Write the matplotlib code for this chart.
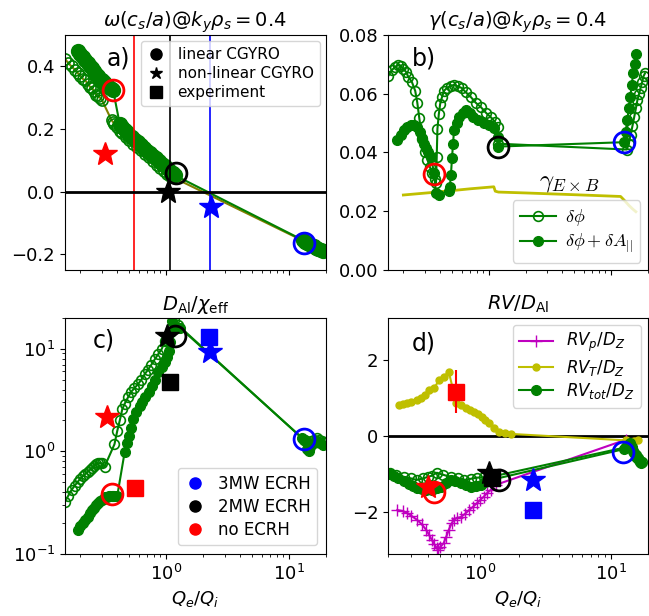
import matplotlib
matplotlib.use("Agg")
import matplotlib.pyplot as plt

# ---------------- data ----------------
# a) real frequency
a_phi_x = [0.15, 0.16, 0.17, 0.18, 0.19, 0.20, 0.21, 0.22, 0.23, 0.24, 0.25, 0.26, 0.27, 0.28, 0.29, 0.30,
           0.36, 0.37, 0.38, 0.40, 0.42, 0.44, 0.47, 0.50, 0.54, 0.58, 0.62, 0.67, 0.72, 0.78, 0.84, 0.90,
           0.96, 1.02, 1.08,
           13.2, 13.8, 14.5, 15.2, 16.0, 16.8, 17.6, 18.5, 19.4]
a_phi_y = [0.425, 0.41, 0.40, 0.39, 0.38, 0.37, 0.36, 0.355, 0.345, 0.335, 0.33, 0.32, 0.31, 0.305, 0.30, 0.293,
           0.228, 0.222, 0.215, 0.205, 0.195, 0.186, 0.175, 0.165, 0.153, 0.142, 0.132, 0.12, 0.109, 0.097,
           0.086, 0.076, 0.066, 0.057, 0.05,
           -0.158, -0.162, -0.166, -0.17, -0.174, -0.178, -0.182, -0.186, -0.19]
a_em_x = [0.19, 0.20, 0.21, 0.22, 0.23, 0.24, 0.25, 0.26, 0.27, 0.28, 0.29, 0.30, 0.31, 0.32, 0.33, 0.34,
          0.35, 0.36, 0.37,
          0.42, 0.44, 0.46, 0.48, 0.50, 0.53, 0.56, 0.59, 0.62, 0.66, 0.70, 0.74, 0.78, 0.83, 0.88, 0.93,
          0.98, 1.03, 1.08, 1.13, 1.18,
          13.0, 13.5, 14.0, 14.6, 15.2, 15.9, 16.6, 17.4, 18.2, 19.0]
a_em_y = [0.45, 0.44, 0.43, 0.42, 0.41, 0.40, 0.395, 0.385, 0.375, 0.37, 0.36, 0.355, 0.35, 0.345, 0.34,
          0.335, 0.33, 0.327, 0.325,
          0.215, 0.205, 0.197, 0.19, 0.182, 0.173, 0.165, 0.157, 0.149, 0.14, 0.131, 0.123, 0.115, 0.106,
          0.097, 0.089, 0.081, 0.073, 0.065, 0.058, 0.052,
          -0.155, -0.16, -0.163, -0.167, -0.171, -0.175, -0.179, -0.183, -0.187, -0.19]

# b) growth rate
b_phi_x = [0.15, 0.16, 0.17, 0.18, 0.19, 0.20, 0.21, 0.22, 0.235, 0.25, 0.26, 0.27, 0.285, 0.30, 0.315, 0.33,
           0.345, 0.36, 0.37, 0.375, 0.38, 0.39, 0.40, 0.415, 0.43, 0.455, 0.49, 0.52, 0.56, 0.60, 0.65,
           0.71, 0.78, 0.86, 0.95, 1.04, 1.12, 1.2, 1.18,
           13.5, 14.0, 14.5, 15.0, 15.5, 16.0, 16.5, 17.0, 17.5, 18.0, 18.5, 19.0]
b_phi_y = [0.066, 0.068, 0.069, 0.0698, 0.0695, 0.0685, 0.0675, 0.0657, 0.064, 0.061, 0.057, 0.0517, 0.0445,
           0.040, 0.0375, 0.035, 0.033, 0.031, 0.0296, 0.0385, 0.048, 0.053, 0.0565, 0.059, 0.061, 0.062,
           0.0628, 0.063, 0.0625, 0.062, 0.0605, 0.059, 0.057, 0.0555, 0.0535, 0.052, 0.0505, 0.0487, 0.043,
           0.041, 0.043, 0.046, 0.049, 0.052, 0.055, 0.058, 0.060, 0.062, 0.064, 0.066, 0.067]
b_em_x = [0.178, 0.19, 0.203, 0.215, 0.23, 0.245, 0.26, 0.275, 0.285, 0.295, 0.306, 0.32, 0.337, 0.356, 0.37,
          0.39, 0.47, 0.48, 0.49, 0.50, 0.51, 0.52, 0.545, 0.57, 0.61, 0.65, 0.70, 0.75, 0.82, 0.91, 1.0,
          1.1, 1.2, 1.18,
          12.8, 13.2, 13.6, 14.0, 14.4, 14.8, 15.2, 15.6, 16.0]
b_em_y = [0.0443, 0.046, 0.0477, 0.0487, 0.0494, 0.0495, 0.0487, 0.047, 0.045, 0.043, 0.0415, 0.040, 0.0385,
          0.033, 0.0262, 0.0255, 0.027, 0.0283, 0.0323, 0.038, 0.043, 0.0477, 0.050, 0.052, 0.0535, 0.0545,
          0.0535, 0.052, 0.051, 0.050, 0.0492, 0.0483, 0.0453, 0.042,
          0.0435, 0.047, 0.051, 0.055, 0.059, 0.063, 0.067, 0.070, 0.0735]
exb_x = [0.2, 0.4, 0.7, 1.1, 1.13, 1.2, 2.0, 5.0, 12.0, 13.0, 14.0, 15.0, 16.0]
exb_y = [0.0255, 0.0266, 0.0276, 0.0283, 0.0268, 0.0265, 0.0262, 0.0256, 0.025, 0.0235, 0.022, 0.0208, 0.0198]

# c) D_Al / chi_eff
c_phi_x = [0.15, 0.16, 0.17, 0.18, 0.19, 0.20, 0.21, 0.22, 0.23, 0.24, 0.25, 0.26, 0.27, 0.28, 0.29, 0.30,
           0.316,
           0.38, 0.40, 0.42, 0.44, 0.46, 0.49, 0.52, 0.55, 0.59, 0.63, 0.67, 0.71, 0.76, 0.81, 0.86, 0.92,
           0.98, 1.04, 1.10, 1.15, 1.25,
           13.2, 13.8, 14.5, 15.2, 16.0, 16.8, 17.6, 18.5, 19.4]
c_phi_y = [0.32, 0.37, 0.42, 0.46, 0.50, 0.54, 0.57, 0.60, 0.63, 0.66, 0.69, 0.72, 0.75, 0.76, 0.77, 0.76,
           0.71,
           1.17, 1.57, 2.0, 2.57, 2.9, 3.36, 3.8, 4.1, 4.5, 5.0, 5.65, 6.2, 7.0, 7.9, 8.8, 9.9, 11.8, 13.5,
           16.0, 19.0, 17.0,
           1.3, 1.25, 1.2, 1.25, 1.3, 1.35, 1.3, 1.25, 1.2]
c_em_x = [0.19, 0.20, 0.21, 0.22, 0.23, 0.24, 0.25, 0.26, 0.27, 0.28, 0.29, 0.30, 0.31, 0.32, 0.33, 0.34,
          0.35, 0.36, 0.37, 0.38, 0.40,
          0.46, 0.48, 0.50, 0.52, 0.54, 0.57, 0.61, 0.64, 0.67, 0.72, 0.77, 0.82, 0.86, 0.92, 0.98, 1.02,
          1.05, 1.08, 1.10, 1.12, 1.3,
          12.8, 13.5, 14.0, 14.5, 15.0, 16.0, 17.0, 18.0, 19.0]
c_em_y = [0.17, 0.185, 0.20, 0.215, 0.23, 0.25, 0.265, 0.28, 0.30, 0.31, 0.325, 0.335, 0.345, 0.355, 0.36,
          0.365, 0.37, 0.37, 0.37, 0.365, 0.365,
          0.98, 1.2, 1.4, 1.7, 2.05, 2.4, 2.75, 3.0, 3.36, 3.8, 4.3, 5.0, 5.9, 6.6, 7.4, 8.3, 9.5, 11.6,
          14.5, 18.5, 16.0,
          1.35, 1.3, 1.05, 1.0, 1.1, 1.2, 1.25, 1.2, 1.15]

# d) RV / D_Al
d_p_x = [0.235, 0.26, 0.28, 0.30, 0.33, 0.36, 0.39, 0.41, 0.43, 0.45, 0.47, 0.48, 0.50, 0.53, 0.555, 0.58,
         0.61, 0.635, 0.67, 0.72, 0.77, 0.83, 0.89, 0.95, 1.01, 1.07, 1.14, 1.21, 1.32, 13.0]
d_p_y = [-1.95, -1.98, -2.03, -2.1, -2.2, -2.32, -2.47, -2.6, -2.73, -2.85, -2.95, -3.0, -2.92, -2.82, -2.65,
         -2.47, -2.3, -2.2, -2.16, -2.13, -2.05, -1.95, -1.86, -1.77, -1.68, -1.6, -1.5, -1.42, -1.29, -0.1]
d_t_x = [0.243, 0.26, 0.28, 0.30, 0.33, 0.357, 0.38, 0.41, 0.45, 0.49, 0.53, 0.58,
         0.66, 0.72, 0.78, 0.84, 0.90, 0.97, 1.04, 1.10, 1.17, 1.28, 1.39, 1.55, 1.72,
         13.0, 14.0, 15.0, 16.0]
d_t_y = [0.82, 0.84, 0.87, 0.89, 0.95, 1.0, 1.08, 1.21, 1.26, 1.47, 1.55, 1.68,
         0.87, 0.8, 0.74, 0.68, 0.63, 0.57, 0.5, 0.42, 0.34, 0.21, 0.1, 0.07, 0.05,
         -0.12, -0.15, -0.13, -0.1]
d_tot_x = [0.205, 0.22, 0.24, 0.265, 0.29, 0.31, 0.33, 0.36, 0.39, 0.43, 0.47, 0.51, 0.55, 0.60, 0.65, 0.72,
           0.78, 0.85, 0.93, 1.02, 1.1, 1.21,
           12.5, 13.0, 13.5, 14.0, 14.5, 15.0, 15.5, 16.0, 16.5, 17.0]
d_tot_y = [-1.0, -1.05, -1.12, -1.2, -1.27, -1.32, -1.37, -1.4, -1.42, -1.42, -1.38, -1.34, -1.25, -1.16, -1.2,
           -1.24, -1.3, -1.34, -1.32, -1.29, -1.22, -1.16,
           -0.35, -0.3, -0.25, -0.2, -0.3, -0.45, -0.55, -0.62, -0.68, -0.72]
d_tot_phi_x = [0.205, 0.23, 0.265, 0.30, 0.33, 0.37, 0.40, 0.43, 0.47, 0.52, 0.60, 0.68, 0.76, 0.85, 0.95,
               1.08, 1.21,
               13.0, 13.6, 14.2, 14.8, 15.4, 16.0, 16.6, 17.2]
d_tot_phi_y = [-0.97, -1.02, -1.08, -1.12, -1.16, -1.12, -1.08, -1.05, -0.97, -1.02, -1.08, -1.12, -1.16,
               -1.13, -1.1, -1.09, -1.08,
               -0.3, -0.25, -0.3, -0.4, -0.5, -0.58, -0.65, -0.7]

# three discharges: no ECRH, 2MW, 3MW
cases = ["no ECRH", "2MW ECRH", "3MW ECRH"]
case_colors = ["r", "k", "b"]
vline_x = [0.547, 1.08, 2.29]

lin_a_x, lin_a_y = [0.37, 1.2, 13.3], [0.325, 0.06, -0.163]
lin_b_x, lin_b_y = [0.356, 1.18, 12.8], [0.0327, 0.042, 0.0436]
lin_c_x, lin_c_y = [0.36, 1.18, 13.3], [0.38, 13.2, 1.31]
lin_d_x, lin_d_y = [0.45, 1.39, 12.3], [-1.47, -1.16, -0.42]

nl_a_x, nl_a_y = [0.32, 1.04, 2.34], [0.12, 0.0, -0.05]
nl_c_x, nl_c_y = [0.33, 1.02, 2.3], [2.15, 13.3, 9.2]
nl_d_x, nl_d_y = [0.40, 1.17, 2.56], [-1.34, -0.97, -1.16]

exp_c_x, exp_c_y, exp_c_err = [0.56, 1.08, 2.25], [0.44, 4.7, 12.9], [0.0, 0.5, 0.0]
exp_d_x, exp_d_y, exp_d_err = [0.66, 1.23, 2.56], [1.16, -1.1, -1.95], [0.57, 0.0, 0.0]

# ---------------- figure ----------------
plt.rcParams["xtick.labelsize"] = 13
plt.rcParams["ytick.labelsize"] = 13

fig = plt.figure(figsize=(6.49, 6.16), dpi=100)
ax_a = fig.add_axes([0.100, 0.562, 0.402, 0.381])
ax_b = fig.add_axes([0.598, 0.562, 0.400, 0.381])
ax_c = fig.add_axes([0.100, 0.101, 0.402, 0.383])
ax_d = fig.add_axes([0.598, 0.101, 0.400, 0.383])

open_kw = dict(marker="o", ms=7, mfc="none", mec="g", mew=1.2, color="g", lw=1.5)
full_kw = dict(marker="o", ms=7, mfc="g", mec="g", color="g", lw=1.5)


def add_cases(ax, lx, ly, sx=None, sy=None, ex=None, ey=None, eerr=None):
    for i, col in enumerate(case_colors):
        ax.plot(lx[i], ly[i], "o", ms=15, mfc="none", mec=col, mew=2, zorder=5)
        if sx is not None:
            ax.plot(sx[i], sy[i], "*", ms=18, color=col, zorder=6)
        if ex is not None:
            ax.errorbar(ex[i], ey[i], yerr=eerr[i], fmt="s", ms=12, color=col, lw=1.5, zorder=6)


# a)
ax = ax_a
ax.plot(a_phi_x, a_phi_y, marker="o", ms=8, mfc="none", mec="g", mew=1.2, color="olive", lw=1.5)
ax.plot(a_em_x, a_em_y, marker="o", ms=10, color="g", lw=1.5)
for xv, col in zip(vline_x, case_colors):
    ax.axvline(xv, color=col, lw=1.2)
ax.axhline(0, color="k", lw=2)
add_cases(ax, lin_a_x, lin_a_y, nl_a_x, nl_a_y)
ax.plot([], [], "ko", ms=8, label="linear CGYRO")
ax.plot([], [], "k*", ms=9, label="non-linear CGYRO")
ax.plot([], [], "ks", ms=8, label="experiment")
ax.legend(loc="upper right", fontsize=11, handlelength=1.2, borderaxespad=0.4, labelspacing=0.25)
ax.set_ylim(-0.25, 0.5)
ax.set_yticks([-0.2, 0.0, 0.2, 0.4])
ax.set_title(r"$\omega(c_s/a)@k_y\rho_s=0.4$", fontsize=14)
ax.text(0.16, 0.9, "a)", transform=ax.transAxes, fontsize=17, va="center")

# b)
ax = ax_b
ax.plot(exb_x, exb_y, color="y", lw=2)
ax.plot(b_phi_x, b_phi_y, label=r"$\delta\phi$", **open_kw)
ax.plot(b_em_x, b_em_y, label=r"$\delta\phi+\delta A_{||}$", **full_kw)
add_cases(ax, lin_b_x, lin_b_y)
ax.text(4.6, 0.0298, r"$\gamma_{E\times B}$", fontsize=18, math_fontfamily="cm", va="center", ha="center")
ax.legend(loc="lower right", prop={"size": 13, "math_fontfamily": "cm"}, borderaxespad=0.4,
          labelspacing=0.2, handlelength=2.0, handletextpad=0.5)
ax.set_ylim(0, 0.08)
ax.set_yticks([0.0, 0.02, 0.04, 0.06, 0.08])
ax.set_title(r"$\gamma(c_s/a)@k_y\rho_s=0.4$", fontsize=14)
ax.text(0.09, 0.9, "b)", transform=ax.transAxes, fontsize=17, va="center")

# c)
ax = ax_c
ax.plot(c_phi_x, c_phi_y, **open_kw)
ax.plot(c_em_x, c_em_y, **full_kw)
add_cases(ax, lin_c_x, lin_c_y, nl_c_x, nl_c_y, exp_c_x, exp_c_y, exp_c_err)
for name, col in zip(cases[::-1], case_colors[::-1]):
    ax.plot([], [], "o", color=col, ms=8, label=name)
ax.legend(loc="lower right", fontsize=12, handlelength=1.2, borderaxespad=0.5, labelspacing=0.3)
ax.set_yscale("log")
ax.set_ylim(0.1, 20)
ax.set_title(r"$D_{\rm Al}/\chi_{\rm eff}$", fontsize=14)
ax.set_xlabel(r"$Q_e/Q_i$", fontsize=13)
ax.text(0.105, 0.905, "c)", transform=ax.transAxes, fontsize=17, va="center")

# d)
ax = ax_d
ax.axhline(0, color="k", lw=2)
ax.plot(d_p_x, d_p_y, "m+-", ms=9, lw=1.5, label=r"$RV_p/D_Z$")
ax.plot(d_t_x, d_t_y, "y.-", ms=10, lw=1.5, label=r"$RV_T/D_Z$")
ax.plot(d_tot_phi_x, d_tot_phi_y, **open_kw)
ax.plot(d_tot_x, d_tot_y, label=r"$RV_{tot}/D_Z$", **full_kw)
add_cases(ax, lin_d_x, lin_d_y, nl_d_x, nl_d_y, exp_d_x, exp_d_y, exp_d_err)
ax.legend(loc="upper right", fontsize=12, borderaxespad=0.4, labelspacing=0.2)
ax.set_ylim(-3.1, 3.1)
ax.set_yticks([-2, 0, 2])
ax.set_title(r"$RV/D_{\rm Al}$", fontsize=14)
ax.set_xlabel(r"$Q_e/Q_i$", fontsize=13)
ax.text(0.09, 0.89, "d)", transform=ax.transAxes, fontsize=17, va="center")

for ax in (ax_a, ax_b, ax_c, ax_d):
    ax.set_xscale("log")
for ax in (ax_a, ax_b, ax_c):
    ax.set_xlim(0.15, 20)
ax_d.set_xlim(0.2, 19)
ax_a.tick_params(labelbottom=False)
ax_b.tick_params(labelbottom=False)

fig.savefig("out.png", dpi=100)
